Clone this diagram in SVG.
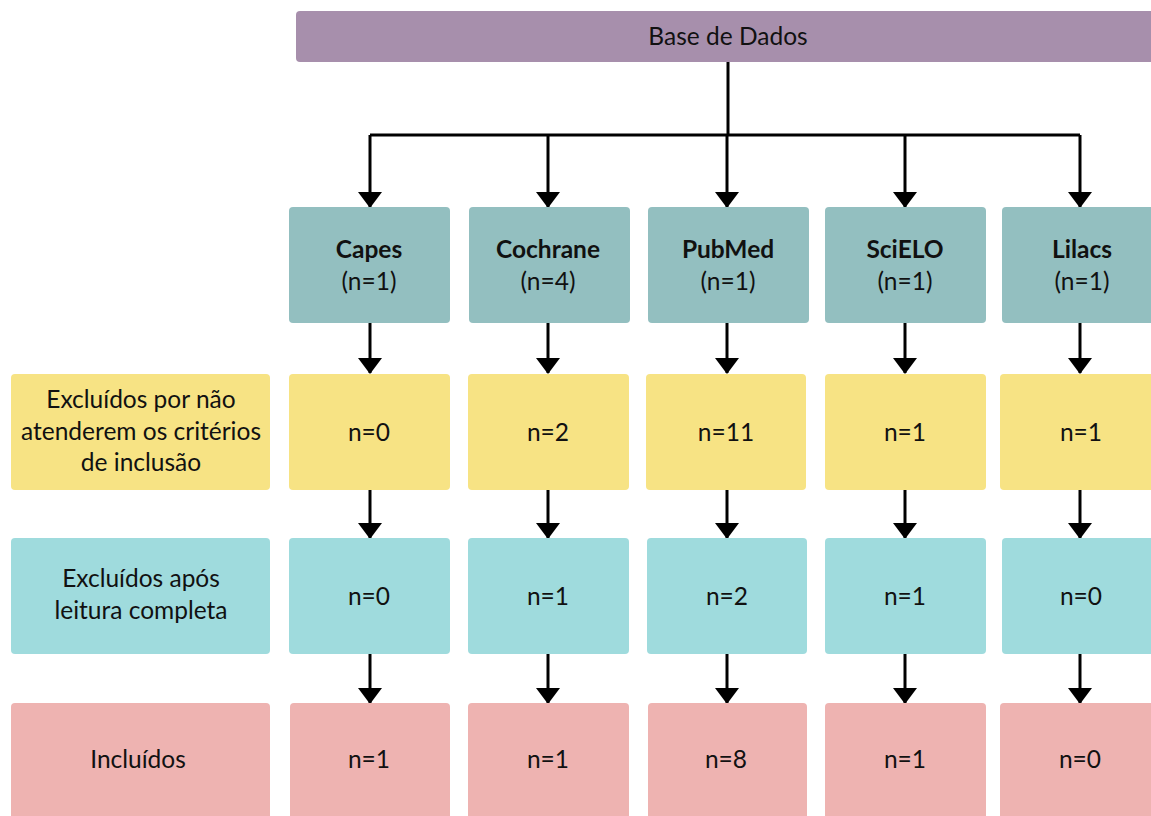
<svg xmlns="http://www.w3.org/2000/svg" width="1151" height="816" viewBox="0 0 1151 816">
<style>
text{font-family:Lato,"Liberation Sans",sans-serif;font-size:24.5px;fill:#111;text-anchor:middle}
.b{font-weight:bold}
.top{fill:#a78fac}
.db{fill:#93bfc0}
.ex1{fill:#f7e384}
.ex2{fill:#9fdbdd}
.inc{fill:#eeb3b1}
.ln{stroke:#000;stroke-width:3;fill:none}
</style>
<defs>
<marker id="ah" viewBox="0 0 16 24" refX="15" refY="12" markerWidth="16" markerHeight="24" markerUnits="userSpaceOnUse" orient="auto">
<path d="M0,0 L16,12 L0,24 Z" fill="#000"/>
</marker>
</defs>
<rect width="1151" height="816" fill="#fff"/>
<g id="base"><rect class="top" x="296" y="11" width="870" height="51" rx="4"/><text x="728" y="45">Base de Dados</text></g>

<g id="connectors">
<path class="ln" d="M728,62 V135"/>
<path class="ln" d="M370,135 H1080"/>
<path class="ln" d="M370,135 V207" marker-end="url(#ah)"/>
<path class="ln" d="M548,135 V207" marker-end="url(#ah)"/>
<path class="ln" d="M727,135 V207" marker-end="url(#ah)"/>
<path class="ln" d="M905,135 V207" marker-end="url(#ah)"/>
<path class="ln" d="M1080,135 V207" marker-end="url(#ah)"/>

<path class="ln" d="M370,323 V373" marker-end="url(#ah)"/>
<path class="ln" d="M548,323 V373" marker-end="url(#ah)"/>
<path class="ln" d="M727,323 V373" marker-end="url(#ah)"/>
<path class="ln" d="M905,323 V373" marker-end="url(#ah)"/>
<path class="ln" d="M1080,323 V373" marker-end="url(#ah)"/>

<path class="ln" d="M370,490 V538" marker-end="url(#ah)"/>
<path class="ln" d="M548,490 V538" marker-end="url(#ah)"/>
<path class="ln" d="M727,490 V538" marker-end="url(#ah)"/>
<path class="ln" d="M905,490 V538" marker-end="url(#ah)"/>
<path class="ln" d="M1080,490 V538" marker-end="url(#ah)"/>

<path class="ln" d="M370,654 V703" marker-end="url(#ah)"/>
<path class="ln" d="M548,654 V703" marker-end="url(#ah)"/>
<path class="ln" d="M727,654 V703" marker-end="url(#ah)"/>
<path class="ln" d="M905,654 V703" marker-end="url(#ah)"/>
<path class="ln" d="M1080,654 V703" marker-end="url(#ah)"/>
</g>

<g id="capes"><rect class="db" x="289" y="207" width="161" height="116" rx="4"/><text class="b" x="369" y="258">Capes</text><text x="369" y="290">(n=1)</text></g>
<g id="cochrane"><rect class="db" x="469" y="207" width="161" height="116" rx="4"/><text class="b" x="548" y="258">Cochrane</text><text x="548" y="290">(n=4)</text></g>
<g id="pubmed"><rect class="db" x="648" y="207" width="161" height="116" rx="4"/><text class="b" x="728" y="258">PubMed</text><text x="728" y="290">(n=1)</text></g>
<g id="scielo"><rect class="db" x="825" y="207" width="161" height="116" rx="4"/><text class="b" x="905" y="258">SciELO</text><text x="905" y="290">(n=1)</text></g>
<g id="lilacs"><rect class="db" x="1002" y="207" width="170" height="116" rx="4"/><text class="b" x="1082" y="258">Lilacs</text><text x="1082" y="290">(n=1)</text></g>

<g id="excl1-label"><rect class="ex1" x="11" y="374" width="259" height="116" rx="4"/><text x="141" y="408">Excluídos por não</text><text x="141" y="440">atenderem os critérios</text><text x="141" y="471">de inclusão</text></g>
<g id="excl1-capes"><rect class="ex1" x="289" y="374" width="161" height="116" rx="4"/><text x="369" y="441">n=0</text></g>
<g id="excl1-cochrane"><rect class="ex1" x="468" y="374" width="161" height="116" rx="4"/><text x="548" y="441">n=2</text></g>
<g id="excl1-pubmed"><rect class="ex1" x="646" y="374" width="160" height="116" rx="4"/><text x="726" y="441">n=11</text></g>
<g id="excl1-scielo"><rect class="ex1" x="825" y="374" width="161" height="116" rx="4"/><text x="905" y="441">n=1</text></g>
<g id="excl1-lilacs"><rect class="ex1" x="1000" y="374" width="170" height="116" rx="4"/><text x="1081" y="441">n=1</text></g>

<g id="excl2-label"><rect class="ex2" x="11" y="538" width="259" height="116" rx="4"/><text x="141" y="587">Excluídos após</text><text x="141" y="619">leitura completa</text></g>
<g id="excl2-capes"><rect class="ex2" x="289" y="538" width="161" height="116" rx="4"/><text x="369" y="605">n=0</text></g>
<g id="excl2-cochrane"><rect class="ex2" x="468" y="538" width="161" height="116" rx="4"/><text x="548" y="605">n=1</text></g>
<g id="excl2-pubmed"><rect class="ex2" x="647" y="538" width="160" height="116" rx="4"/><text x="727" y="605">n=2</text></g>
<g id="excl2-scielo"><rect class="ex2" x="825" y="538" width="161" height="116" rx="4"/><text x="905" y="605">n=1</text></g>
<g id="excl2-lilacs"><rect class="ex2" x="1002" y="538" width="170" height="116" rx="4"/><text x="1081" y="605">n=0</text></g>

<g id="incl-label"><rect class="inc" x="11" y="703" width="259" height="130" rx="4"/><text x="138" y="768">Incluídos</text></g>
<g id="incl-capes"><rect class="inc" x="290" y="703" width="160" height="130" rx="4"/><text x="369" y="768">n=1</text></g>
<g id="incl-cochrane"><rect class="inc" x="468" y="703" width="161" height="130" rx="4"/><text x="548" y="768">n=1</text></g>
<g id="incl-pubmed"><rect class="inc" x="648" y="703" width="159" height="130" rx="4"/><text x="726" y="768">n=8</text></g>
<g id="incl-scielo"><rect class="inc" x="825" y="703" width="161" height="130" rx="4"/><text x="905" y="768">n=1</text></g>
<g id="incl-lilacs"><rect class="inc" x="1000" y="703" width="170" height="130" rx="4"/><text x="1080" y="768">n=0</text></g>
</svg>
